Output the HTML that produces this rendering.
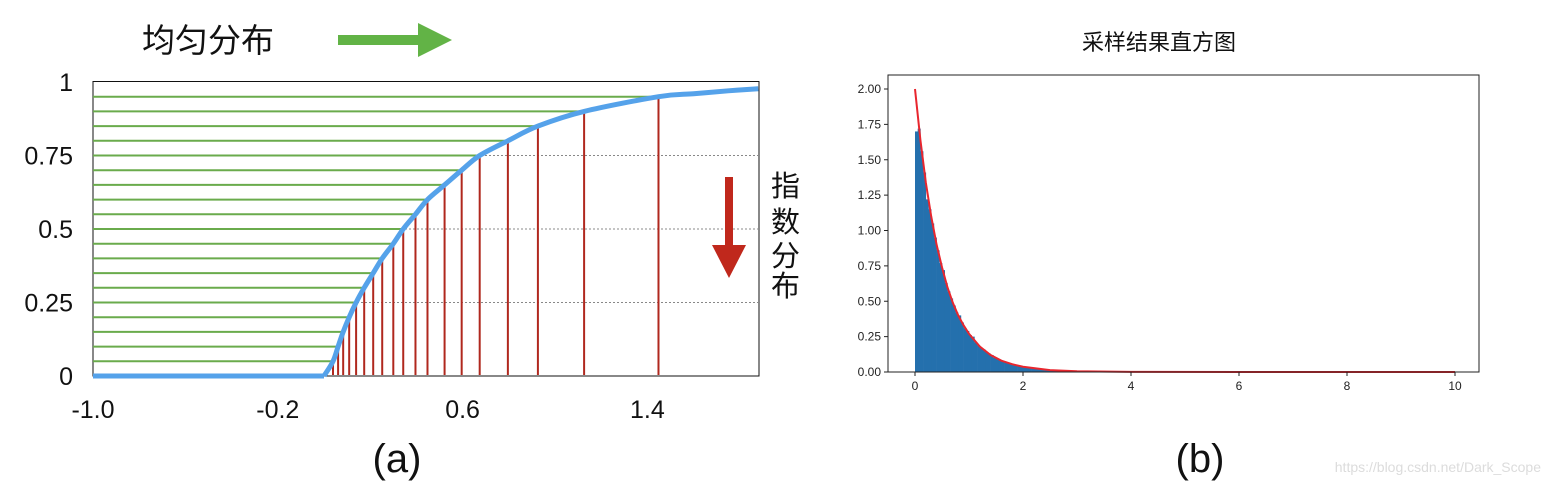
<!DOCTYPE html>
<html><head><meta charset="utf-8">
<style>
html,body{margin:0;padding:0;background:#fff;}
body{width:1554px;height:486px;overflow:hidden;position:relative;font-family:"Liberation Sans","Noto Sans CJK SC",sans-serif;}
svg{position:absolute;left:0;top:0;}
</style></head>
<body>
<svg id="fig" width="1554" height="486" viewBox="0 0 1554 486">
  <g id="left"></g>
  <g id="right"></g>
  <text x="142" y="52" font-size="33" fill="#111" font-family="'Liberation Sans','Noto Sans CJK SC',sans-serif">均匀分布</text>
  <g>
    <rect x="338" y="35" width="81" height="10" fill="#62b346"/>
    <polygon points="418,23 452,40 418,57" fill="#62b346"/>
  </g>
  <g>
    <rect x="725" y="177" width="8" height="70" fill="#c0281c"/>
    <polygon points="712,245 746,245 729,278" fill="#c0281c"/>
  </g>
  <g font-size="29" fill="#111" font-family="'Liberation Sans','Noto Sans CJK SC',sans-serif">
    <text x="771" y="196">指</text>
    <text x="771" y="232">数</text>
    <text x="771" y="266">分</text>
    <text x="771" y="296">布</text>
  </g>
  <text x="397" y="472" font-size="40" fill="#111" text-anchor="middle">(a)</text>
  <text x="1200" y="472" font-size="40" fill="#111" text-anchor="middle">(b)</text>
  <text x="1159" y="50" font-size="22" fill="#111" text-anchor="middle" font-family="'Liberation Sans','Noto Sans CJK SC',sans-serif">采样结果直方图</text>
  <text x="1541" y="472" font-size="14" fill="#dcdcdc" text-anchor="end">https://blog.csdn.net/Dark_Scope</text>
</svg>
<script>
// ---- Panel (a) data ----
const aXTicks = [-1.0, -0.2, 0.6, 1.4];
const aXTickLabels = ["-1.0", "-0.2", "0.6", "1.4"];
const aYTicks = [0, 0.25, 0.5, 0.75, 1];
const aYTickLabels = ["0", "0.25", "0.5", "0.75", "1"];
const uniformLevels = [0.05,0.10,0.15,0.20,0.25,0.30,0.35,0.40,0.45,0.50,0.55,0.60,0.65,0.70,0.75,0.80,0.85,0.90,0.95];
const sampleX = [0.039,0.061,0.083,0.109,0.139,0.174,0.213,0.252,0.30,0.343,0.396,0.448,0.522,0.596,0.674,0.796,0.926,1.126,1.448];
const dottedLevels = [0.25, 0.5, 0.75];
const cdfTailX = [1.6, 1.75, 1.88];
const cdfTailY = [0.96, 0.97, 0.977];

// ---- Panel (b) data ----
const bYTicks = [0,0.25,0.5,0.75,1.0,1.25,1.5,1.75,2.0];
const bYTickLabels = ["0.00","0.25","0.50","0.75","1.00","1.25","1.50","1.75","2.00"];
const bXTicks = [0,2,4,6,8,10];
const bXTickLabels = ["0","2","4","6","8","10"];
const binWidth = 0.05;
const binHeights = [1.70,1.72,1.56,1.41,1.22,1.15,1.05,0.95,0.86,0.77,0.72,0.63,0.57,0.52,0.47,0.42,0.40,0.35,0.31,0.29,0.26,0.25,0.21,0.19,0.17,0.16,0.14,0.13,0.12,0.10,0.095,0.086,0.078,0.07,0.064,0.058,0.052,0.047,0.043,0.039,0.035,0.032,0.029,0.026,0.023,0.021,0.019,0.017,0.016,0.014,0.013,0.012,0.010,0.009,0.008,0.008,0.007,0.006,0.005,0.005];
const pdfX = [0,0.1,0.2,0.3,0.4,0.5,0.6,0.7,0.8,0.9,1.0,1.2,1.4,1.6,1.8,2.0,2.5,3.0,4.0,6.0,10.0];
const pdfY = [2.0,1.64,1.34,1.10,0.90,0.74,0.60,0.49,0.40,0.33,0.27,0.18,0.12,0.08,0.055,0.037,0.013,0.005,0.0007,0,0];

const NS = "http://www.w3.org/2000/svg";
function mk(parent, tag, attrs){const e=document.createElementNS(NS,tag);for(const k in attrs)e.setAttribute(k,attrs[k]);parent.appendChild(e);return e;}
function smooth(p){
  let d='M'+p[0][0]+','+p[0][1];
  for(let i=0;i<p.length-1;i++){
    const p0=p[Math.max(0,i-1)],p1=p[i],p2=p[i+1],p3=p[Math.min(p.length-1,i+2)];
    const c1x=p1[0]+(p2[0]-p0[0])/6,c1y=p1[1]+(p2[1]-p0[1])/6;
    const c2x=p2[0]-(p3[0]-p1[0])/6,c2y=p2[1]-(p3[1]-p1[1])/6;
    d+=' C'+c1x+','+c1y+' '+c2x+','+c2y+' '+p2[0]+','+p2[1];
  }
  return d;
}

// Panel (a) axes
const ax = v => 93 + (v + 1) * 231;
const ay = v => 376 - v * 294;
const L = document.getElementById('left');
const box = mk(L,'rect',{x:93,y:81.5,width:666,height:294.5,fill:'none',stroke:'#111','stroke-width':1});


dottedLevels.forEach(v=>{
  const l=mk(L,'line',{x1:93,x2:759,y1:ay(v),y2:ay(v),stroke:'#888','stroke-width':1,'stroke-dasharray':'2,2'});
  
  
});
uniformLevels.forEach((u,i)=>{
  const g=mk(L,'line',{x1:93,x2:ax(sampleX[i]),y1:ay(u),y2:ay(u),stroke:'#6aab4c','stroke-width':2});
  
  
  const r=mk(L,'line',{x1:ax(sampleX[i]),x2:ax(sampleX[i]),y1:ay(u),y2:ay(0)-1,stroke:'#b0281e','stroke-width':2});
  
  
});
const flat=mk(L,'line',{x1:ax(-1),x2:ax(0),y1:ay(0),y2:ay(0),stroke:'#55a2ea','stroke-width':5});


let pts=[[ax(0),ay(0)]];
sampleX.forEach((x,i)=>pts.push([ax(x),ay(uniformLevels[i])]));
cdfTailX.forEach((x,i)=>pts.push([ax(x),ay(cdfTailY[i])]));
const cdf=mk(L,'path',{d:smooth(pts),fill:'none',stroke:'#55a2ea','stroke-width':5,'stroke-linejoin':'round'});


aYTicks.forEach((v,i)=>{
  const t=mk(L,'text',{x:73,y:ay(v)+9,'font-size':25,'text-anchor':'end',fill:'#111'});
  t.textContent=aYTickLabels[i];
  
  
});
aXTicks.forEach((v,i)=>{
  const t=mk(L,'text',{x:ax(v),y:418,'font-size':25,'text-anchor':'middle',fill:'#111'});
  t.textContent=aXTickLabels[i];
  
  
});

// Panel (b)
const bx = v => 915 + v * 54;
const by = v => 372 - v * 141.5;
const R = document.getElementById('right');
binHeights.forEach((h,i)=>{
  const x0=bx(i*binWidth), x1=bx((i+1)*binWidth);
  const b=mk(R,'rect',{x:x0,y:by(h),width:x1-x0+0.3,height:by(0)-by(h),fill:'#2470ad'});
  
  
});
const pdf=mk(R,'polyline',{points:pdfX.map((x,i)=>bx(x)+','+by(pdfY[i])).join(' '),fill:'none',stroke:'#e8262e','stroke-width':2});


const box2=mk(R,'rect',{x:888,y:75,width:591,height:297,fill:'none',stroke:'#222','stroke-width':1});


bYTicks.forEach((v,i)=>{
  mk(R,'line',{x1:884,x2:888,y1:by(v),y2:by(v),stroke:'#222'});
  const t=mk(R,'text',{x:881,y:by(v)+4,'font-size':12,'text-anchor':'end',fill:'#222'});
  t.textContent=bYTickLabels[i];
  
  
});
bXTicks.forEach((v,i)=>{
  mk(R,'line',{x1:bx(v),x2:bx(v),y1:372,y2:376,stroke:'#222'});
  const t=mk(R,'text',{x:bx(v),y:390,'font-size':12,'text-anchor':'middle',fill:'#222'});
  t.textContent=bXTickLabels[i];
  
  
});
</script>
</body></html>
